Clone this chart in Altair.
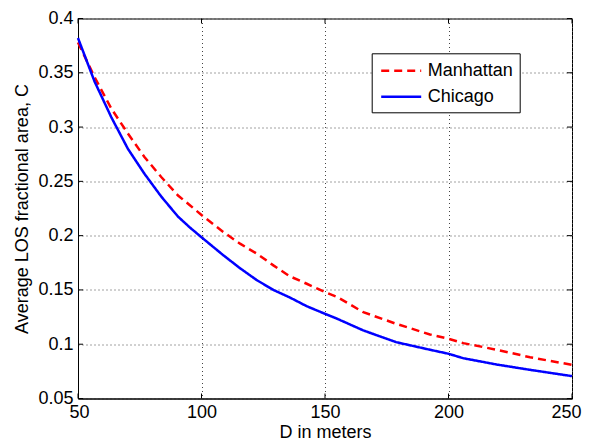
import altair as alt
import pandas as pd

# Data
chicago_d = [50, 56.7, 63.5, 70.2, 76.9, 83.7, 90.5, 95.3, 100, 108.8, 115.6, 122.4,
             129.1, 135.8, 142.6, 150, 155, 165.5, 178.8, 192.5, 200, 206, 219.5, 233, 250]
chicago_c = [0.382, 0.342, 0.309, 0.280, 0.257, 0.236, 0.2175, 0.2075, 0.1985, 0.182, 0.170, 0.159,
             0.150, 0.143, 0.135, 0.128, 0.1234, 0.1127, 0.1019, 0.0949, 0.0912, 0.0871, 0.0813, 0.0764, 0.0706]

manhattan_d = [50, 56.7, 63.5, 70.2, 76.9, 83.7, 90.5, 95.3, 100, 108.8, 115.6, 122.4,
               129.1, 135.8, 142.6, 150, 155, 165.5, 178.8, 192.5, 200, 206, 219.5, 233, 250]
manhattan_c = [0.378, 0.346, 0.317, 0.294, 0.2725, 0.254, 0.237, 0.228, 0.219, 0.2034, 0.1926, 0.1834,
               0.1726, 0.1625, 0.1557, 0.148, 0.1434, 0.1295, 0.1188, 0.109, 0.105, 0.101, 0.0949, 0.088, 0.081]

series_names = ["Manhattan", "Chicago"]
series_colors = ["#ff0000", "#0000ff"]
x_ticks = [50, 100, 150, 200, 250]
y_ticks = [0.05, 0.1, 0.15, 0.2, 0.25, 0.3, 0.35, 0.4]

df_m = pd.DataFrame({"D": manhattan_d, "C": manhattan_c, "city": "Manhattan"})
df_c = pd.DataFrame({"D": chicago_d, "C": chicago_c, "city": "Chicago"})
df_xt = pd.DataFrame({"D": x_ticks})
df_yt = pd.DataFrame({"C": y_ticks})

W, H = 494, 380
FONT = "Liberation Sans"

xscale = alt.Scale(domain=[50, 250], nice=False, zero=False)
yscale = alt.Scale(domain=[0.05, 0.4], nice=False, zero=False)

x_axis = alt.Axis(values=x_ticks, title="D in meters", grid=True, ticks=False, tickSize=0,
                  labelPadding=5, titleY=39, titleBaseline="alphabetic",
                  labelFlush=True, labelFlushOffset=9, labelOverlap=False)
y_axis = alt.Axis(values=y_ticks, title="Average LOS fractional area, C", grid=True, ticks=False,
                  tickSize=0, labelPadding=5, titleX=-51, titleY=190, titleBaseline="alphabetic",
                  labelFlush=False, labelOverlap=False, format="~g")

color_enc = alt.Color("city:N", scale=alt.Scale(domain=series_names, range=series_colors), title=None,
                      legend=alt.Legend(orient="none", legendX=293.7, legendY=34.8))
dash_enc = alt.StrokeDash("city:N", scale=alt.Scale(domain=series_names, range=[[8, 5], [1, 0]]),
                          title=None, legend=alt.Legend(orient="none", legendX=293.7, legendY=34.8))

line_m = alt.Chart(df_m).mark_line(strokeWidth=2.5).encode(
    x=alt.X("D:Q", scale=xscale, axis=x_axis),
    y=alt.Y("C:Q", scale=yscale, axis=y_axis),
    color=color_enc, strokeDash=dash_enc)
line_c = alt.Chart(df_c).mark_line(strokeWidth=2.5).encode(
    x=alt.X("D:Q", scale=xscale, axis=x_axis),
    y=alt.Y("C:Q", scale=yscale, axis=y_axis),
    color=color_enc, strokeDash=dash_enc)

# inward tick marks on all four sides (MATLAB style)
tk = dict(color="black", strokeWidth=1)
xt_bottom = alt.Chart(df_xt).mark_rule(**tk).encode(x=alt.X("D:Q", scale=xscale), y=alt.value(H), y2=alt.value(H - 5))
xt_top = alt.Chart(df_xt).mark_rule(**tk).encode(x=alt.X("D:Q", scale=xscale), y=alt.value(0), y2=alt.value(5))
yt_left = alt.Chart(df_yt).mark_rule(**tk).encode(y=alt.Y("C:Q", scale=yscale), x=alt.value(0), x2=alt.value(5))
yt_right = alt.Chart(df_yt).mark_rule(**tk).encode(y=alt.Y("C:Q", scale=yscale), x=alt.value(W), x2=alt.value(W - 5))

chart = alt.layer(line_m, line_c, xt_bottom, xt_top, yt_left, yt_right).properties(
    width=W, height=H,
    autosize=alt.AutoSizeParams(type="none"),
    padding={"left": 70, "top": 10.5, "right": 10, "bottom": 42.5},
).configure_view(
    stroke="black", strokeWidth=1
).configure_axis(
    labelFont=FONT, titleFont=FONT, labelFontSize=18, titleFontSize=18,
    labelColor="black", titleColor="black", titleFontWeight="normal",
    domainColor="black", domainWidth=1,
    gridColor="#444444", gridDash=[1, 3], gridWidth=1, gridOpacity=1,
).configure_legend(
    labelFont=FONT, labelFontSize=18, labelColor="black",
    symbolType="M-1,0H3", symbolSize=400, symbolStrokeWidth=2.5,
    labelOffset=25, rowPadding=5, padding=6, symbolOffset=2,
    strokeColor="black", fillColor="white", cornerRadius=0,
)

chart.save("out.html", embed_options={"renderer": "svg", "actions": False})
